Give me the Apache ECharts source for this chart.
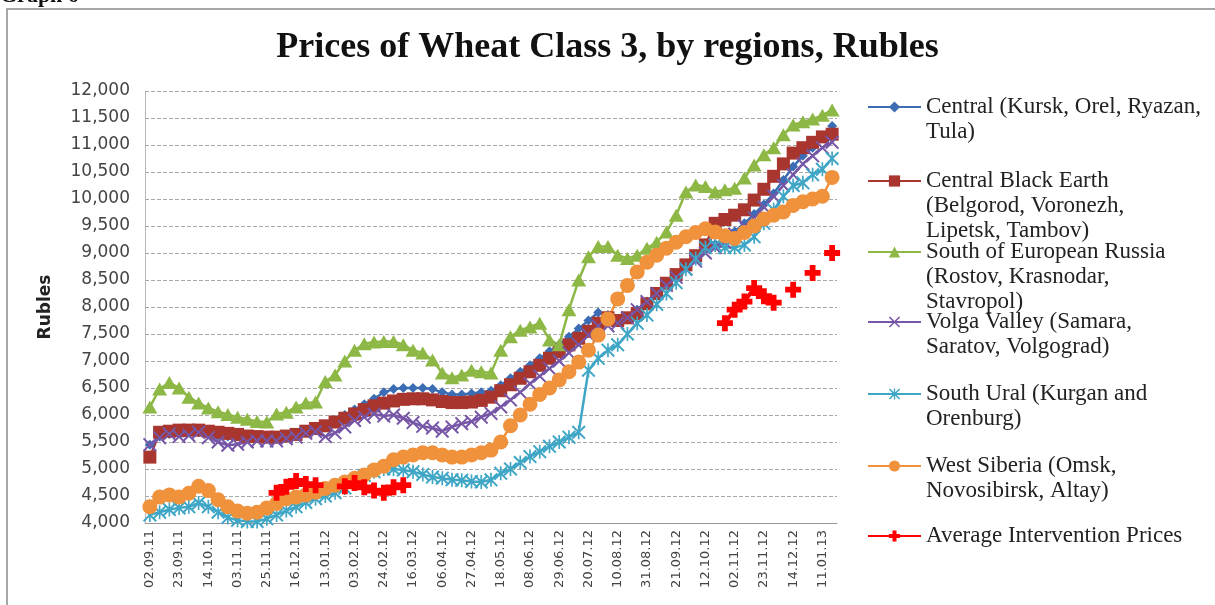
<!DOCTYPE html>
<html>
<head>
<meta charset="utf-8">
<script src="https://cdn.jsdelivr.net/npm/echarts@6/dist/echarts.min.js"></script>
<style>
  html, body { margin: 0; padding: 0; background: #fff; }
  #chart { width: 1215px; height: 605px; }
</style>
</head>
<body>
<div id="chart"></div>
<script>
// weekly dates (holiday weeks skipped)
const weeks = [
  '02.09.11', '09.09.11', '16.09.11', '23.09.11', '30.09.11', '07.10.11', '14.10.11', '21.10.11', '28.10.11', '03.11.11',
  '11.11.11', '18.11.11', '25.11.11', '02.12.11', '09.12.11', '16.12.11', '23.12.11', '30.12.11', '13.01.12', '20.01.12',
  '27.01.12', '03.02.12', '10.02.12', '17.02.12', '24.02.12', '02.03.12', '09.03.12', '16.03.12', '23.03.12', '30.03.12',
  '06.04.12', '13.04.12', '20.04.12', '27.04.12', '04.05.12', '11.05.12', '18.05.12', '25.05.12', '01.06.12', '08.06.12',
  '15.06.12', '22.06.12', '29.06.12', '06.07.12', '13.07.12', '20.07.12', '27.07.12', '03.08.12', '10.08.12', '17.08.12',
  '24.08.12', '31.08.12', '07.09.12', '14.09.12', '21.09.12', '28.09.12', '05.10.12', '12.10.12', '19.10.12', '26.10.12',
  '02.11.12', '09.11.12', '16.11.12', '23.11.12', '30.11.12', '07.12.12', '14.12.12', '21.12.12', '28.12.12', '11.01.13',
  '18.01.13'
];

const central = [
  5450, 5600, 5650, 5680, 5680, 5680, 5650, 5620, 5600, 5600,
  5580, 5570, 5560, 5560, 5580, 5620, 5700, 5760, 5820, 5900,
  6000, 6100, 6200, 6300, 6420, 6480, 6500, 6500, 6500, 6480,
  6420, 6380, 6380, 6400, 6420, 6450, 6550, 6680, 6800, 6920,
  7050, 7180, 7300, 7450, 7600, 7750, 7900, 7850, 7750, 7820,
  7950, 8100, 8280, 8450, 8620, 8780, 8920, 9060, 9160, 9260,
  9400, 9550, 9720, 9900, 10100, 10350, 10600, 10800, 10950, 11150,
  11350
];
const blackEarth = [
  5220, 5680, 5700, 5720, 5720, 5720, 5700, 5680, 5660, 5640,
  5610, 5600, 5590, 5590, 5610, 5640, 5700, 5750, 5800, 5870,
  5940, 6020, 6100, 6170, 6220, 6260, 6290, 6300, 6300, 6280,
  6250, 6230, 6230, 6240, 6270, 6330, 6450, 6560, 6680, 6800,
  6920, 7050, 7170, 7300, 7420, 7550, 7700, 7800, 7750, 7800,
  7880, 8060, 8250, 8440, 8600, 8780, 8950, 9150, 9550, 9620,
  9700, 9800, 9980, 10180, 10420, 10650, 10850, 10950, 11050, 11150,
  11200
];
const southEurope = [
  6150, 6480, 6600, 6500, 6330, 6220, 6130, 6060, 6010, 5960,
  5920, 5880, 5870, 6020, 6050, 6150, 6220, 6240, 6620, 6740,
  7000, 7200, 7320, 7350, 7360, 7360, 7300, 7200, 7150, 7020,
  6780, 6690, 6740, 6830, 6800, 6780, 7200, 7450, 7570, 7630,
  7700, 7390, 7300, 7950, 8500, 8930, 9120, 9120, 8960, 8900,
  8960, 9090, 9200, 9390, 9700, 10130, 10260, 10230, 10130, 10170,
  10200, 10390, 10630, 10820, 10950, 11190, 11370, 11430, 11480, 11550,
  11650
];
const volga = [
  5450, 5580, 5650, 5600, 5620, 5680, 5580, 5500, 5440, 5460,
  5500, 5520, 5520, 5520, 5560, 5590, 5660, 5690, 5600, 5670,
  5780, 5900, 5960, 6020, 5980, 6000, 5940, 5860, 5790, 5760,
  5700, 5780, 5840, 5880, 5960, 6030, 6150, 6280, 6420, 6580,
  6720, 6860, 7000, 7150, 7300, 7480, 7650, 7650, 7700, 7800,
  7950, 8100, 8250, 8400, 8550, 8700, 8850, 9000, 9100, 9200,
  9350, 9500, 9650, 9850, 10050, 10250, 10450, 10650, 10800, 10950,
  11050
];
const southUral = [
  4150, 4200, 4250, 4280, 4300, 4370, 4300, 4200, 4100, 4050,
  4030, 4030, 4080, 4150, 4230, 4300, 4380, 4450, 4500, 4560,
  4650, 4780, 4880, 4950, 5000, 5000, 4980, 4950, 4900, 4850,
  4830, 4800, 4790, 4770, 4760, 4800, 4920, 5000, 5120, 5230,
  5320, 5420, 5500, 5590, 5680, 6830, 7050, 7200, 7300, 7500,
  7700, 7850, 8050, 8250, 8450, 8700, 8900, 9100, 9150, 9100,
  9100, 9150, 9300, 9550, 9800, 10050, 10250, 10300, 10450, 10550,
  10750
];
const westSiberia = [
  4300, 4480, 4520, 4480, 4550, 4680, 4600, 4430, 4300, 4220,
  4180, 4200, 4280, 4360, 4450, 4480, 4520, 4570, 4640, 4700,
  4760, 4830, 4890, 4980, 5050, 5170, 5220, 5260, 5300, 5300,
  5260, 5220, 5220, 5260, 5300, 5350, 5500, 5800, 6000, 6200,
  6380, 6500, 6650, 6800, 6980, 7200, 7480, 7780, 8150, 8400,
  8650, 8830, 8960, 9090, 9200, 9300, 9380, 9450, 9390, 9320,
  9270, 9380, 9500, 9630, 9700, 9760, 9880, 9950, 10000, 10050,
  10400
];
const intervention = [
  null, null, null, null, null, null, null, null, null, null,
  null, null, null, 4560, 4670, 4780, 4720, 4700, null, null,
  4680, 4740, 4660, 4600, 4560, 4660, 4700, null, null, null,
  null, null, null, null, null, null, null, null, null, null,
  null, null, null, null, null, null, null, null, null, null,
  null, null, null, null, null, null, null, null, null, 7700,
  7950, 8100, 8350, 8200, 8080, null, 8320, null, 8630, null,
  9000
];

const names = [
  'Central (Kursk, Orel, Ryazan, Tula)',
  'Central Black Earth (Belgorod, Voronezh, Lipetsk, Tambov)',
  'South of European Russia (Rostov, Krasnodar, Stavropol)',
  'Volga Valley (Samara, Saratov, Volgograd)',
  'South Ural (Kurgan and Orenburg)',
  'West Siberia (Omsk, Novosibirsk, Altay)',
  'Average Intervention Prices'
];
const legendLines = [
  ['Central (Kursk, Orel, Ryazan,', 'Tula)'],
  ['Central Black Earth', '(Belgorod, Voronezh,', 'Lipetsk, Tambov)'],
  ['South of European Russia', '(Rostov, Krasnodar,', 'Stavropol)'],
  ['Volga Valley (Samara,', 'Saratov, Volgograd)'],
  ['South Ural (Kurgan and', 'Orenburg)'],
  ['West Siberia (Omsk,', 'Novosibirsk, Altay)'],
  ['Average Intervention Prices']
];
const legendY = [107, 181, 252, 322, 394, 466, 536];

const colors = ['#3B6CB4', '#A8362F', '#8DB845', '#7656A6', '#3FA6C6', '#F0913C', '#FF0000'];
const crossX = 'path://M0,1L1,0L5,4L9,0L10,1L6,5L10,9L9,10L5,6L1,10L0,9L4,5Z';
const star = 'path://M0,1L1,0L5,4L9,0L10,1L6,5L10,9L9,10L5,6L1,10L0,9L4,5Z M4.4,0L5.6,0L5.6,10L4.4,10Z';
const plus = 'path://M3.2,0L6.8,0L6.8,3.2L10,3.2L10,6.8L6.8,6.8L6.8,10L3.2,10L3.2,6.8L0,6.8L0,3.2L3.2,3.2Z';
const symbols = ['diamond', 'rect', 'triangle', crossX, star, 'circle', plus];
const sizes = [10, 13, [15, 13], 14, 14, 15, 16];
const values = [central, blackEarth, southEurope, volga, southUral, westSiberia, intervention];

const LH = 25;
const legends = names.map((n, k) => {
  const lines = legendLines[k];
  const pad = new Array(lines.length - 1).fill('');
  const h = (lines.length * 2 - 1) * LH;
  return {
    data: [n],
    orient: 'vertical',
    left: 867,
    top: legendY[k] - h / 2,
    padding: 0,
    itemWidth: 53,
    itemHeight: 14,
    formatter: () => pad.concat(lines).join('\n'),
    textStyle: {
      fontFamily: 'Liberation Serif',
      fontSize: 23,
      lineHeight: LH,
      color: '#222'
    }
  };
});

const chart = echarts.init(document.getElementById('chart'));
chart.setOption({
  animation: false,
  color: colors,
  title: {
    text: 'Prices of Wheat Class 3, by regions, Rubles',
    left: 'center',
    top: 30,
    padding: [0, 0, 0, 26],
    textStyle: {
      fontFamily: 'Liberation Serif',
      fontWeight: 'bold',
      fontSize: 36,
      color: '#111'
    }
  },
  graphic: [
    {
      type: 'rect',
      shape: { x: 7, y: 9, width: 1220, height: 610 },
      style: { fill: 'none', stroke: '#8a8a8a', lineWidth: 1.5 },
      silent: true
    },
    {
      type: 'text',
      left: 0,
      top: -15,
      style: {
        text: 'Graph 6',
        font: 'bold 22px "Liberation Serif"',
        fill: '#111'
      }
    }
  ],
  legend: legends,
  grid: { left: 145, right: 378, top: 91, bottom: 82 },
  xAxis: {
    type: 'category',
    data: weeks,
    boundaryGap: true,
    axisLine: { lineStyle: { color: '#999' } },
    axisTick: { show: false },
    axisLabel: {
      interval: 2,
      rotate: 90,
      margin: 7,
      fontFamily: 'DejaVu Sans',
      fontSize: 13,
      color: '#444'
    },
    splitLine: { show: false }
  },
  yAxis: {
    type: 'value',
    min: 4000,
    max: 12000,
    interval: 500,
    name: 'Rubles',
    nameLocation: 'middle',
    nameGap: 91,
    nameTextStyle: {
      fontFamily: 'DejaVu Sans',
      fontWeight: 'bold',
      fontSize: 17,
      color: '#222'
    },
    axisLine: { show: true, lineStyle: { color: '#aaa', type: 'dotted' } },
    axisTick: { show: false },
    axisLabel: {
      margin: 15,
      fontFamily: 'DejaVu Sans',
      fontSize: 17,
      color: '#444',
      formatter: v => v.toLocaleString('en-US')
    },
    splitLine: { lineStyle: { color: '#a8a8a8', type: [4, 2], width: 1.2 } }
  },
  series: names.map((n, k) => ({
    name: n,
    type: 'line',
    data: values[k],
    symbol: symbols[k],
    symbolSize: sizes[k],
    showAllSymbol: true,
    connectNulls: false,
    lineStyle: { width: k === 6 ? 4 : 2.5, color: colors[k] },
    itemStyle: { color: colors[k] }
  }))
});
</script>
</body>
</html>
